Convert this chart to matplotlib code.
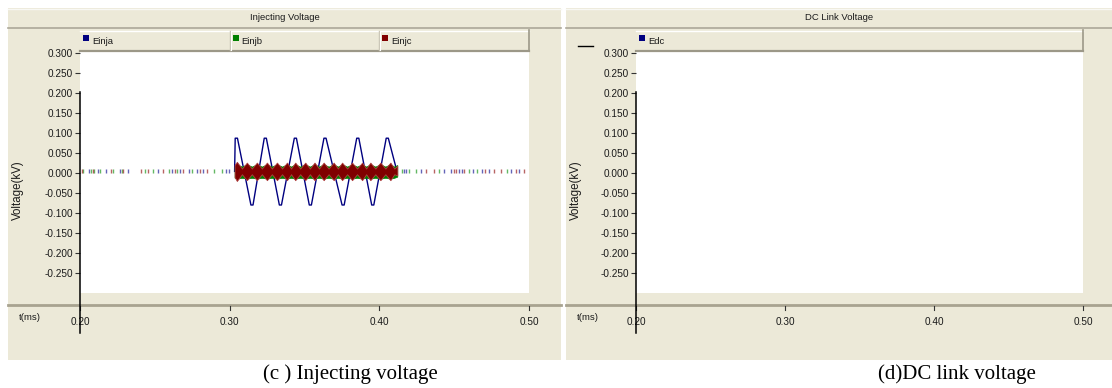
import matplotlib
matplotlib.use("Agg")
import matplotlib.pyplot as plt
from matplotlib.patches import Rectangle
from matplotlib.lines import Line2D
import matplotlib.transforms as mtransforms

plt.rcParams['font.family'] = ['Liberation Sans', 'DejaVu Sans']

# ---------------- data ----------------
panel_titles = ["Injecting Voltage", "DC Link Voltage"]
captions = ["(c ) Injecting voltage", "(d)DC link voltage"]
legend_left = ["Einja", "Einjb", "Einjc"]
legend_right = ["Edc"]
series_colors = ["#000080", "#008000", "#800000"]
y_ticks = [0.300, 0.250, 0.200, 0.150, 0.100, 0.050, 0.000, -0.050, -0.100, -0.150, -0.200, -0.250]
x_ticks = [0.20, 0.30, 0.40, 0.50]
x_label = "t(ms)"
y_label = "Voltage(kV)"

# Einja (blue) waveform vertices
einja_t = [0.3033, 0.3037, 0.3052, 0.3142, 0.3156, 0.3231, 0.3245, 0.3332, 0.3346,
           0.3432, 0.3446, 0.3532, 0.3546, 0.3630, 0.3644, 0.3751, 0.3765, 0.3849,
           0.3863, 0.3949, 0.3963, 0.4046, 0.4060, 0.4118]
einja_v = [0.004, 0.087, 0.087, -0.080, -0.080, 0.087, 0.087, -0.080, -0.080,
           0.087, 0.087, -0.080, -0.080, 0.087, 0.087, -0.080, -0.080, 0.087,
           0.087, -0.080, -0.080, 0.087, 0.087, 0.004]

# Einjb / Einjc switching band envelopes
band_t = [0.3033, 0.3048, 0.3082, 0.3115, 0.3148, 0.3182, 0.3215, 0.3249, 0.3282,
          0.3316, 0.3350, 0.3383, 0.3410, 0.3438, 0.3471, 0.3505, 0.3536, 0.3567,
          0.3597, 0.3628, 0.3661, 0.3695, 0.3723, 0.3751, 0.3785, 0.3818, 0.3851,
          0.3885, 0.3912, 0.3940, 0.3973, 0.4007, 0.4040, 0.4074, 0.4100, 0.4120]
einjc_hi = [0.020, 0.028, 0.011, 0.026, 0.011, 0.026, 0.011, 0.026, 0.011,
            0.026, 0.011, 0.026, 0.011, 0.026, 0.011, 0.026, 0.011, 0.026,
            0.011, 0.026, 0.011, 0.026, 0.011, 0.026, 0.011, 0.026, 0.011,
            0.026, 0.011, 0.026, 0.011, 0.026, 0.011, 0.026, 0.011, 0.018]
einjc_lo = [-0.010, -0.020, -0.003, -0.018, -0.003, -0.018, -0.003, -0.018, -0.003,
            -0.018, -0.003, -0.018, -0.003, -0.018, -0.003, -0.018, -0.003, -0.018,
            -0.003, -0.018, -0.003, -0.018, -0.003, -0.018, -0.003, -0.018, -0.003,
            -0.018, -0.003, -0.018, -0.003, -0.018, -0.003, -0.018, -0.003, -0.006]
einjb_hi = [0.016, 0.022, 0.016, 0.022, 0.016, 0.022, 0.016, 0.022, 0.016,
            0.022, 0.016, 0.022, 0.016, 0.022, 0.016, 0.022, 0.016, 0.022,
            0.016, 0.022, 0.016, 0.022, 0.016, 0.022, 0.016, 0.022, 0.016,
            0.022, 0.016, 0.022, 0.016, 0.022, 0.016, 0.022, 0.016, 0.020]
einjb_lo = [-0.012, -0.014, -0.012, -0.014, -0.012, -0.014, -0.012, -0.014, -0.012,
            -0.014, -0.012, -0.014, -0.012, -0.014, -0.012, -0.014, -0.012, -0.014,
            -0.012, -0.014, -0.012, -0.014, -0.012, -0.014, -0.012, -0.014, -0.012,
            -0.014, -0.012, -0.014, -0.012, -0.014, -0.012, -0.014, -0.012, -0.009]

# small residual marks near zero outside the injection window
marks_a = [0.2062, 0.2122, 0.2174, 0.2268, 0.2323, 0.2524, 0.2613, 0.2669, 0.2725,
           0.2781, 0.2821, 0.2977, 0.2997, 0.4168, 0.4179, 0.4279, 0.4431, 0.4480,
           0.4531, 0.4549, 0.4627, 0.4687, 0.4732, 0.4881, 0.4932]
marks_b = [0.2022, 0.2072, 0.2094, 0.2134, 0.2219, 0.2279, 0.2435, 0.2490, 0.2597,
           0.2647, 0.2747, 0.2892, 0.2948, 0.4152, 0.4196, 0.4248, 0.4397, 0.4598,
           0.4654, 0.4850]
marks_c = [0.2011, 0.2085, 0.2205, 0.2290, 0.2406, 0.2457, 0.2557, 0.2636, 0.2691,
           0.2803, 0.2848, 0.4315, 0.4364, 0.4497, 0.4509, 0.4564, 0.4709, 0.4765,
           0.4815, 0.4910, 0.4966]
mark_level = 0.004

# ---------------- layout helpers ----------------
W, H = 1112, 388
BEIGE = "#ECE9D8"
EDGE = "#ACA899"
TXT = "#1a1a1a"

fig = plt.figure(figsize=(W / 100, H / 100), dpi=100)
fig.patch.set_facecolor("white")


def fx(px):
    return px / W


def fy(py):
    return 1 - py / H


def frect(x0, y0, x1, y1, **kw):
    fig.patches.append(Rectangle((fx(x0), fy(y1)), fx(x1) - fx(x0), fy(y0) - fy(y1),
                                 transform=fig.transFigure, **kw))


def fline(xs, ys, **kw):
    fig.lines.append(Line2D([fx(x) for x in xs], [fy(y) for y in ys],
                            transform=fig.transFigure, **kw))


def panel(px0, px1, ax_l, ax_r, title, legend, caption, cap_x):
    # beige panel
    frect(px0, 8, px1, 360, facecolor=BEIGE, edgecolor="none", zorder=-5)
    fline([px0, px1], [8.5, 8.5], color="#F8F8F4", lw=1, zorder=1)
    fline([px0, px1], [28, 28], color=EDGE, lw=1.2, zorder=1)
    fig.text(fx((px0 + px1) / 2), fy(18), title, ha="center", va="center",
             fontsize=6.8, color=TXT)
    # horizontal axis bar
    fline([px0, px1], [305, 305], color="#A8A390", lw=2, zorder=1)
    # legend bar
    frect(ax_l, 30, ax_r, 51, facecolor=BEIGE, edgecolor="none", zorder=1)
    fline([ax_l, ax_r], [30.5, 30.5], color="white", lw=1, zorder=2)
    fline([ax_l, ax_r], [50.5, 50.5], color="#9C9888", lw=1.6, zorder=2)
    fline([ax_r, ax_r], [30, 51], color="#9C9888", lw=1.2, zorder=2)
    cw = (ax_r - ax_l) / 3.0
    for i, name in enumerate(legend):
        x0 = ax_l + i * cw
        if i > 0:
            fline([x0, x0], [31, 50], color="#C8C4B4", lw=1, zorder=2)
            fline([x0 + 1, x0 + 1], [31, 50], color="white", lw=0.8, zorder=2)
        frect(x0 + 3, 35, x0 + 9, 41, facecolor=series_colors[i], edgecolor="none", zorder=3)
        fig.text(fx(x0 + 12), fy(41), name, ha="left", va="center", fontsize=6.8, color=TXT)
    # axis labels
    fig.text(fx(px0 + 10), fy(190), y_label, rotation=90, ha="center", va="center",
             fontsize=8.3, color=TXT)
    fig.text(fx(px0 + 22), fy(317), x_label, ha="center", va="center",
             fontsize=6.8, color=TXT)
    # caption
    fig.text(fx(cap_x), fy(374), caption, ha="center", va="center", fontsize=15,
             family="Liberation Serif", color="black")

    ax = fig.add_axes([fx(ax_l), fy(293), fx(ax_r) - fx(ax_l), fy(51) - fy(293)])
    ax.set_zorder(1.5)
    ax.set_facecolor("white")
    ax.set_xlim(0.2, 0.5)
    ax.set_ylim(-0.3, 0.305)
    for s in ax.spines.values():
        s.set_visible(False)
    ax.set_yticks(y_ticks)
    ax.set_yticklabels([f"{v:.3f}" for v in y_ticks])
    ax.tick_params(axis="y", direction="out", length=3.5, width=0.8, pad=1.5,
                   labelsize=7.2, colors="#333333", labelcolor=TXT)
    ax.set_xticks([])
    # x ticks drawn on the axis bar
    tr = mtransforms.blended_transform_factory(ax.transData, fig.transFigure)
    for xv in x_ticks:
        ax.plot([xv, xv], [fy(306), fy(310)], transform=tr, color="#333333", lw=0.8,
                clip_on=False)
        ax.text(xv, fy(322), f"{xv:.2f}", transform=tr, ha="center", va="center",
                fontsize=7.2, color=TXT)
    # black vertical marker line at the left edge
    ax.plot([0.2, 0.2], [fy(92), fy(333)], transform=tr, color="black", lw=1.1,
            clip_on=False, zorder=5)
    return ax


axL = panel(8, 561, 80, 529, panel_titles[0], legend_left, captions[0], 350)
axR = panel(566, 1112, 636, 1083, panel_titles[1], legend_right, captions[1], 957)
fline([578, 593], [46, 46], color="black", lw=1, zorder=3)

# ---------------- data drawing ----------------
axL.plot(marks_a, [mark_level] * len(marks_a), ls="none", marker="|", ms=2.4, mew=1.0,
         color="#3030a0", alpha=0.75)
axL.plot(marks_b, [mark_level] * len(marks_b), ls="none", marker="|", ms=2.4, mew=1.0,
         color="#30a030", alpha=0.75)
axL.plot(marks_c, [mark_level] * len(marks_c), ls="none", marker="|", ms=2.4, mew=1.0,
         color="#a03030", alpha=0.75)

axL.plot(einja_t, einja_v, color=series_colors[0], lw=1.0, zorder=2)
axL.fill_between(band_t, einjb_lo, einjb_hi, color=series_colors[1], lw=0.5, zorder=3)
axL.fill_between(band_t, einjc_lo, einjc_hi, facecolor=series_colors[2],
                 edgecolor="#b04040", lw=0.6, zorder=4)

fig.savefig("out.png", dpi=100)
